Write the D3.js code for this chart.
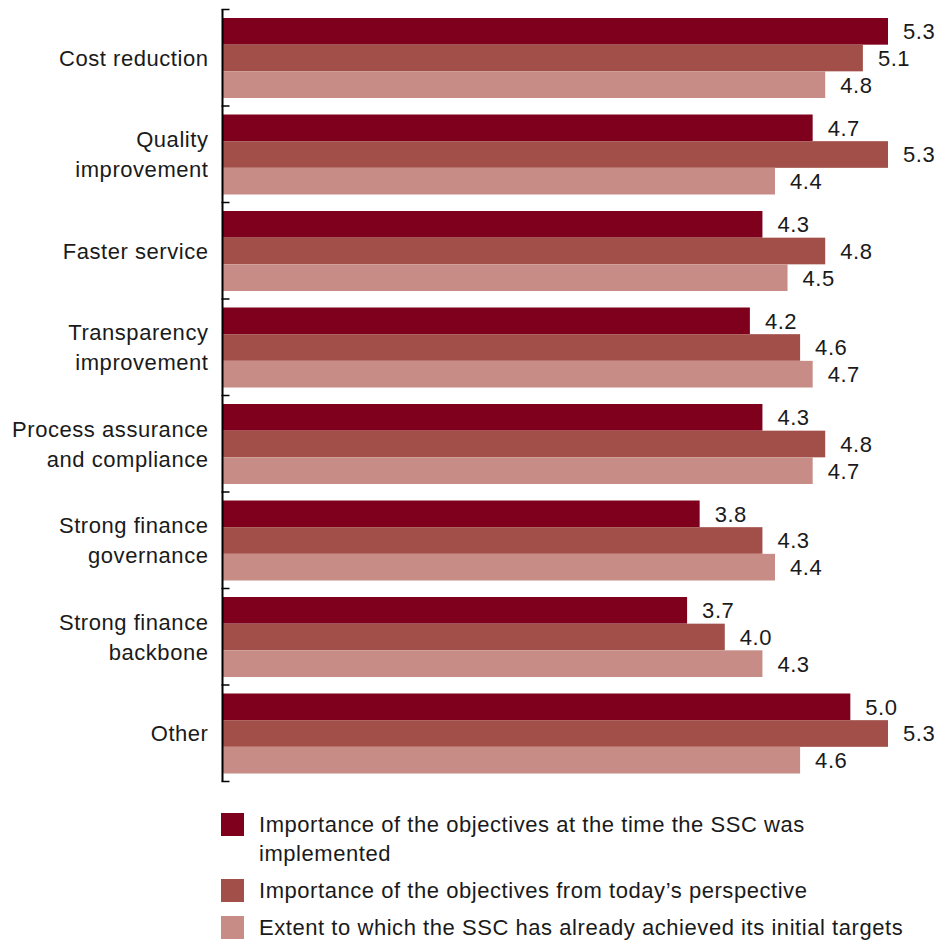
<!DOCTYPE html>
<html>
<head>
<meta charset="utf-8">
<script src="https://cdn.jsdelivr.net/npm/d3@7"></script>
<style>
  html, body { margin: 0; padding: 0; background: #fff; }
  svg { display: block; font-family: "Liberation Sans", Arial, Helvetica, sans-serif; }
  svg text { letter-spacing: 0.55px; }
</style>
</head>
<body>
<svg id="chart" width="944" height="942"></svg>
<script>
const categories = [
  ["Cost reduction"],
  ["Quality", "improvement"],
  ["Faster service"],
  ["Transparency", "improvement"],
  ["Process assurance", "and compliance"],
  ["Strong finance", "governance"],
  ["Strong finance", "backbone"],
  ["Other"]
];
const seriesNames = [
  ["Importance of the objectives at the time the SSC was", "implemented"],
  ["Importance of the objectives from today\u2019s perspective"],
  ["Extent to which the SSC has already achieved its initial targets"]
];
const atImplementation = [5.3, 4.7, 4.3, 4.2, 4.3, 3.8, 3.7, 5.0];
const todaysPerspective = [5.1, 5.3, 4.8, 4.6, 4.8, 4.3, 4.0, 5.3];
const achievedTargets = [4.8, 4.4, 4.5, 4.7, 4.7, 4.4, 4.3, 4.6];
const colors = ["#7f001c", "#a24f4a", "#c68c85"];

const seriesValues = [atImplementation, todaysPerspective, achievedTargets];

const svg = d3.select("#chart");
const axisX = 222.5;
const fontSize = 22;

const x = d3.scaleLinear().domain([0, 5.3]).range([axisX, 888]);
const y = d3.scaleBand().domain(d3.range(categories.length)).range([9.5, 781.5]).padding(0);
const inner = d3.scaleBand().domain(d3.range(3))
  .range([8.5, y.bandwidth() - 8]).padding(0);

const groups = svg.append("g").selectAll("g")
  .data(categories)
  .join("g")
  .attr("transform", (d, i) => `translate(0,${y(i)})`);

// bars with value labels
groups.each(function(cat, i) {
  const g = d3.select(this);
  seriesValues.forEach((vals, s) => {
    g.append("rect")
      .attr("x", x(0))
      .attr("y", inner(s))
      .attr("width", x(vals[i]) - x(0))
      .attr("height", inner.bandwidth())
      .attr("fill", colors[s]);
    g.append("text")
      .attr("x", x(vals[i]) + 15)
      .attr("y", inner(s) + inner.bandwidth() / 2)
      .attr("dy", "0.36em")
      .attr("font-size", fontSize)
      .attr("fill", "#1a1a1a")
      .text(vals[i].toFixed(1));
  });
});

// category labels
groups.append("text")
  .attr("text-anchor", "end")
  .attr("font-size", fontSize)
  .attr("fill", "#1a1a1a")
  .each(function(lines) {
    const t = d3.select(this);
    const lh = 30;
    const start = y.bandwidth() / 2 - (lines.length - 1) * lh / 2;
    lines.forEach((ln, k) => {
      t.append("tspan")
        .attr("x", 208.5)
        .attr("y", start + k * lh)
        .attr("dy", "0.36em")
        .text(ln);
    });
  });

// category axis with ticks on group boundaries
const axisG = svg.append("g");
axisG.append("line")
  .attr("x1", axisX).attr("x2", axisX)
  .attr("y1", y.range()[0]).attr("y2", y.range()[1])
  .attr("stroke", "#000").attr("stroke-width", 2);
const boundaries = d3.range(categories.length + 1).map(i => y.range()[0] + i * y.step());
axisG.selectAll("line.tick")
  .data(boundaries)
  .join("line")
  .attr("class", "tick")
  .attr("x1", axisX - 1).attr("x2", axisX + 7)
  .attr("y1", d => d).attr("y2", d => d)
  .attr("stroke", "#000").attr("stroke-width", 1.5);

// legend
const legendRows = [824.5, 890.5, 927.5];
const legend = svg.append("g");
seriesNames.forEach((lines, s) => {
  const cy = legendRows[s];
  legend.append("rect")
    .attr("x", 221).attr("y", cy - 11.5)
    .attr("width", 23).attr("height", 23)
    .attr("fill", colors[s]);
  const t = legend.append("text")
    .attr("font-size", fontSize)
    .attr("fill", "#1a1a1a");
  lines.forEach((ln, k) => {
    t.append("tspan")
      .attr("x", 259)
      .attr("y", cy + k * 29)
      .attr("dy", "0.36em")
      .text(ln);
  });
});
</script>
</body>
</html>
